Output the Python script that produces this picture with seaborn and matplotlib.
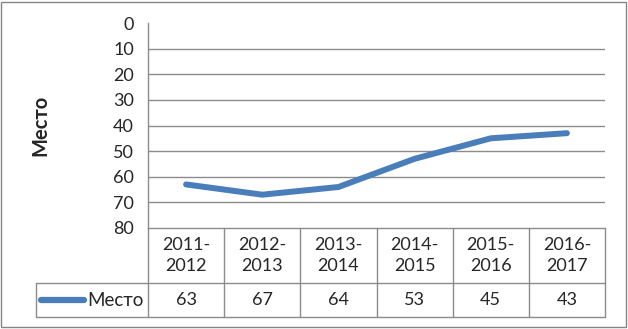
import matplotlib
matplotlib.use("Agg")
import matplotlib.pyplot as plt
from matplotlib.lines import Line2D
from matplotlib.patches import Rectangle
import seaborn as sns
import pandas as pd

seasons = ["2011-\n2012", "2012-\n2013", "2013-\n2014", "2014-\n2015", "2015-\n2016", "2016-\n2017"]
places = [63, 67, 64, 53, 45, 43]
series_name = "Место"
y_ticks = [0, 10, 20, 30, 40, 50, 60, 70, 80]

df = pd.DataFrame({"pos": range(len(seasons)), "place": places})

sns.set_style("white")
plt.rcParams["font.family"] = ["Lato", "DejaVu Sans"]

W, H = 628, 329
fig = plt.figure(figsize=(W / 100, H / 100), dpi=100)
blue = "#4A7EBB"
grey = "#8C8C8C"

# plot area in pixels
L, R, T, B = 148, 605, 23, 228
ax = fig.add_axes([L / W, 1 - B / H, (R - L) / W, (B - T) / H])

sns.lineplot(data=df, x="pos", y="place", ax=ax, color=blue, linewidth=4.3,
             solid_capstyle="round", solid_joinstyle="round")
ax.set_xlim(-0.5, len(seasons) - 0.5)
ax.set_ylim(80, 0)
ax.set_yticks(y_ticks)
ax.set_yticklabels([str(t) for t in y_ticks], fontsize=13)
ax.tick_params(axis="y", length=0, pad=10)
ax.set_xticks([])
ax.set_xlabel("")
ax.set_ylabel("")
for t in y_ticks[1:-1]:
    ax.axhline(t, color=grey, lw=1, zorder=0)
for s in ["top", "right"]:
    ax.spines[s].set_visible(False)
ax.spines["left"].set_color(grey)
ax.spines["bottom"].set_color(grey)
ax.spines["left"].set_linewidth(1)
ax.spines["bottom"].set_linewidth(1)

fig.text(40 / W, 1 - 125 / H, series_name, rotation=90, fontsize=14.5,
         fontweight="bold", ha="center", va="center")

# data table below the axis (figure pixel coords)
def fx(x):
    return x / W

def fy(y):
    return 1 - y / H

row1, row2 = 283, 317
leg_left = 36
col_w = (R - L) / len(seasons)
lines = []
lines.append(((leg_left, R), (row1, row1)))
lines.append(((leg_left, R), (row2, row2)))
lines.append(((leg_left, leg_left), (row1, row2)))
for i in range(len(seasons) + 1):
    x = L + i * col_w
    lines.append(((x, x), (B, row2)))
for xs, ys in lines:
    fig.add_artist(Line2D([fx(v) for v in xs], [fy(v) for v in ys], color=grey, lw=1))

for i, (s, v) in enumerate(zip(seasons, places)):
    cx = L + (i + 0.5) * col_w
    fig.text(fx(cx), fy((B + row1) / 2), s, ha="center", va="center",
             fontsize=13, linespacing=1.45)
    fig.text(fx(cx), fy((row1 + row2) / 2), str(v), ha="center", va="center", fontsize=13)

fig.add_artist(Line2D([fx(41), fx(84)], [fy(300), fy(300)], color=blue, lw=4.5,
                      solid_capstyle="round"))
fig.text(fx(144), fy(300), series_name, ha="right", va="center", fontsize=13.5)

# outer chart border
fig.add_artist(Rectangle((fx(1), fy(327)), fx(625), 325 / H, fill=False,
                         edgecolor="#868686", lw=1))

fig.savefig("out.png", dpi=100)
